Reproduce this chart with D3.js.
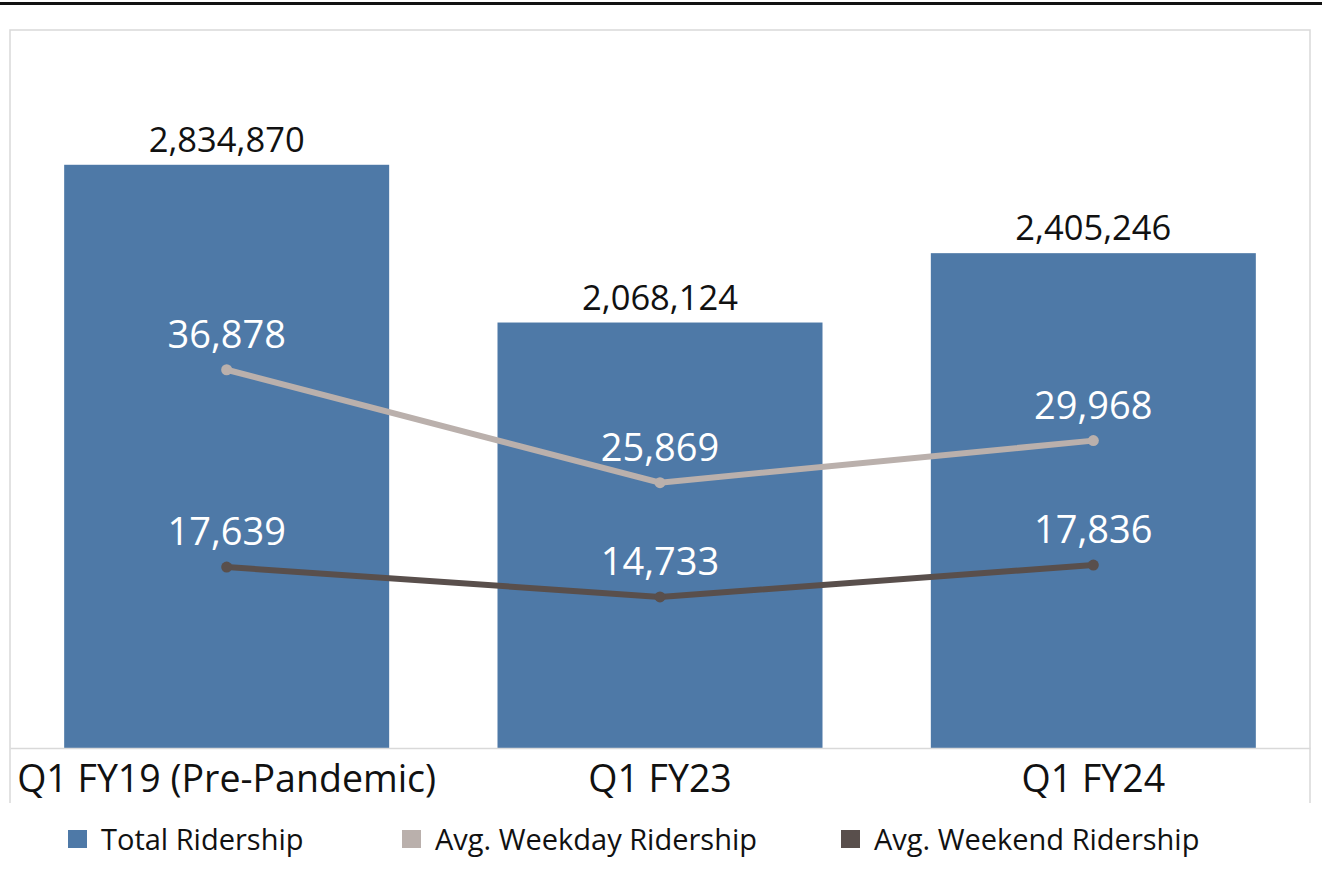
<!DOCTYPE html>
<html>
<head>
<meta charset="utf-8">
<script src="https://cdn.jsdelivr.net/npm/d3@7"></script>
<style>
    body { margin: 0; background: #fff; }
    svg { display: block; font-family: "Open Sans", sans-serif; }
</style>
</head>
<body>
<svg id="chart" width="1322" height="873"></svg>
<script>
// chart values
var quarters = ["Q1 FY19 (Pre-Pandemic)", "Q1 FY23", "Q1 FY24"]
var totalRidership = [2834870, 2068124, 2405246]
var weekdayRidership = [36878, 25869, 29968]
var weekendRidership = [17639, 14733, 17836]
var legendLabels = ["Total Ridership", "Avg. Weekday Ridership", "Avg. Weekend Ridership"]

var colors = {
    bar: "#4e79a7",
    weekday: "#bab0ac",
    weekend: "#594f4c"
}

var svg = d3.select("#chart")
var plotLeft = 10, plotRight = 1310, plotTop = 30, base = 748

// page rule + panel frame
svg.append("rect").attr("x", 0).attr("y", 2).attr("width", 1322).attr("height", 3).attr("fill", "#111")
svg.append("path")
    .attr("d", "M" + plotLeft + ",803V" + plotTop + "H" + plotRight + "V803")
    .attr("fill", "none")
    .attr("stroke", "#d9d9d9")
    .attr("stroke-width", 1.5)

var x = d3.scaleBand()
    .domain(quarters)
    .range([plotLeft, plotRight])
    .paddingInner(0.25)
    .paddingOuter(0.125)

var yBar = d3.scaleLinear().domain([0, 3490000]).range([base, plotTop])
var yLine = d3.scaleLinear().domain([0, 70000]).range([base, plotTop])

var bars = quarters.map(function (q, i) {
    return {q: q, v: totalRidership[i]}
})

svg.selectAll(".bar")
    .data(bars)
    .enter()
    .append("rect")
    .attr("class", "bar")
    .attr("x", function (d) { return x(d.q) })
    .attr("width", x.bandwidth())
    .attr("y", function (d) { return yBar(d.v) })
    .attr("height", function (d) { return base - yBar(d.v) })
    .attr("fill", colors.bar)

svg.selectAll(".bar-label")
    .data(bars)
    .enter()
    .append("text")
    .attr("class", "bar-label")
    .attr("x", function (d) { return x(d.q) + x.bandwidth() / 2 })
    .attr("y", function (d) { return yBar(d.v) - 13 })
    .attr("text-anchor", "middle")
    .attr("font-size", 34.5)
    .attr("fill", "#111")
    .text(function (d) { return d3.format(",")(d.v) })

// x axis
var xAxis = svg.append("g")
    .attr("transform", "translate(0," + base + ")")
    .call(d3.axisBottom(x).tickSize(0).tickSizeOuter(0))
xAxis.select(".domain").attr("stroke", "#d9d9d9").attr("stroke-width", 1.5)
xAxis.selectAll("text")
    .attr("font-family", "Open Sans, sans-serif")
    .attr("font-size", 37.5)
    .attr("fill", "#111")
    .attr("dy", "1.08em")

function drawSeries(values, color) {
    var pts = quarters.map(function (q, i) {
        return {q: q, v: values[i]}
    })
    var line = d3.line()
        .x(function (d) { return x(d.q) + x.bandwidth() / 2 })
        .y(function (d) { return yLine(d.v) })

    svg.append("path")
        .datum(pts)
        .attr("d", line)
        .attr("fill", "none")
        .attr("stroke", color)
        .attr("stroke-width", 6)

    svg.append("g").selectAll("circle")
        .data(pts)
        .enter()
        .append("circle")
        .attr("cx", function (d) { return x(d.q) + x.bandwidth() / 2 })
        .attr("cy", function (d) { return yLine(d.v) })
        .attr("r", 5.5)
        .attr("fill", color)

    svg.append("g").selectAll("text")
        .data(pts)
        .enter()
        .append("text")
        .attr("x", function (d) { return x(d.q) + x.bandwidth() / 2 })
        .attr("y", function (d) { return yLine(d.v) - 22 })
        .attr("text-anchor", "middle")
        .attr("font-size", 38)
        .attr("fill", "#fff")
        .text(function (d) { return d3.format(",")(d.v) })
}

drawSeries(weekdayRidership, colors.weekday)
drawSeries(weekendRidership, colors.weekend)

// legend
var legendColors = [colors.bar, colors.weekday, colors.weekend]
var legendX = [68, 402, 841]
var legend = svg.append("g").selectAll("g")
    .data(legendLabels)
    .enter()
    .append("g")
    .attr("transform", function (d, i) { return "translate(" + legendX[i] + ",830)" })
legend.append("rect")
    .attr("width", 19)
    .attr("height", 18)
    .attr("fill", function (d, i) { return legendColors[i] })
legend.append("text")
    .attr("x", 33)
    .attr("y", 20)
    .attr("font-size", 29)
    .attr("fill", "#111")
    .text(function (d) { return d })
</script>
</body>
</html>
